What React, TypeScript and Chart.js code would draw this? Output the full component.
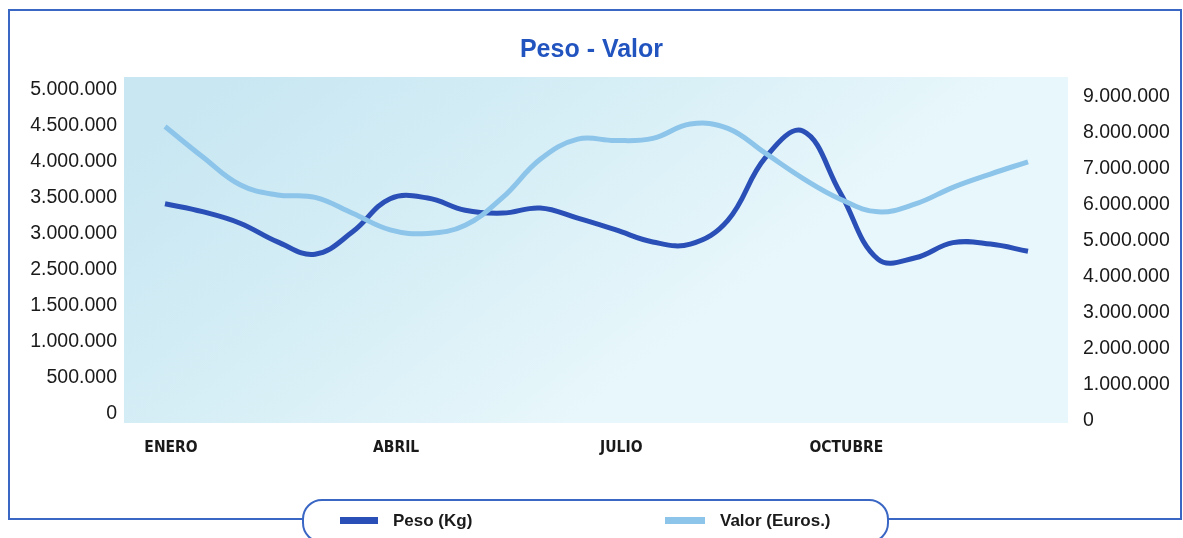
import React, { useEffect, useRef } from "react";
import { Chart, registerables } from "chart.js";

Chart.register(...registerables);

// 24 half-month slots (two per month)
const categories = [
  "ENERO", "ENERO", "FEBRERO", "FEBRERO", "MARZO", "MARZO",
  "ABRIL", "ABRIL", "MAYO", "MAYO", "JUNIO", "JUNIO",
  "JULIO", "JULIO", "AGOSTO", "AGOSTO", "SEPTIEMBRE", "SEPTIEMBRE",
  "OCTUBRE", "OCTUBRE", "NOVIEMBRE", "NOVIEMBRE", "DICIEMBRE", "DICIEMBRE",
];
const xTickIndices = [0, 6, 12, 18];

const pesoKg = [
  3420000, 3310000, 3150000, 2890000, 2720000, 3030000,
  3490000, 3500000, 3330000, 3290000, 3360000, 3220000,
  3060000, 2890000, 2860000, 3190000, 4060000, 4430000,
  3570000, 2650000, 2670000, 2880000, 2860000, 2760000,
];

const valorEuros = [
  8180000, 7340000, 6560000, 6280000, 6210000, 5770000,
  5310000, 5210000, 5440000, 6210000, 7270000, 7830000,
  7790000, 7850000, 8250000, 8130000, 7440000, 6740000,
  6160000, 5810000, 6030000, 6490000, 6860000, 7200000,
];

// left axis as printed (2.000.000 is missing in the original)
const leftTickValues = [500000, 1000000, 1500000, 2000000, 2500000, 3000000, 3500000, 4000000, 4500000, 5000000];
const leftTickLabels = ["0", "500.000", "1.000.000", "1.500.000", "2.500.000", "3.000.000", "3.500.000", "4.000.000", "4.500.000", "5.000.000"];

const rightTickValues = [0, 1000000, 2000000, 3000000, 4000000, 5000000, 6000000, 7000000, 8000000, 9000000];
const rightTickLabels = ["0", "1.000.000", "2.000.000", "3.000.000", "4.000.000", "5.000.000", "6.000.000", "7.000.000", "8.000.000", "9.000.000"];

const PESO_COLOR = "#2a4fb6";
const VALOR_COLOR = "#8cc4ea";
const FRAME_COLOR = "#3a66c4";
const SANS = "'Liberation Sans', Arial, sans-serif";
const NARROW = "'DejaVu Sans Condensed', 'DejaVu Sans', sans-serif";

const framePlugin = {
  id: "framePlugin",
  beforeDraw(chart: any) {
    const { ctx, chartArea } = chart;
    ctx.save();
    ctx.fillStyle = "#ffffff";
    ctx.fillRect(0, 0, chart.width, chart.height);
    // plot background gradient
    const g = ctx.createLinearGradient(chartArea.left + 100, chartArea.top, chartArea.left + 400, chartArea.bottom + 40);
    g.addColorStop(0, "#c8e7f2");
    g.addColorStop(0.5, "#d6eef6");
    g.addColorStop(1, "#e8f7fb");
    ctx.fillStyle = g;
    ctx.fillRect(chartArea.left, chartArea.top, chartArea.right - chartArea.left, chartArea.bottom - chartArea.top);
    // outer frame
    ctx.strokeStyle = FRAME_COLOR;
    ctx.lineWidth = 2;
    ctx.strokeRect(9, 10, 1172, 509);
    // legend pill
    ctx.beginPath();
    ctx.roundRect(303, 500, 585, 42, 19);
    ctx.fillStyle = "#ffffff";
    ctx.fill();
    ctx.stroke();
    ctx.restore();
  },
};

export default function App() {
  const canvasRef = useRef<HTMLCanvasElement | null>(null);

  useEffect(() => {
    if (!canvasRef.current) return;
    const chart = new Chart(canvasRef.current, {
      type: "line",
      data: {
        datasets: [
          {
            label: "Peso (Kg)",
            data: pesoKg.map((v, i) => ({ x: i, y: v })),
            borderColor: PESO_COLOR,
            borderWidth: 5,
            tension: 0.4,
            pointRadius: 0,
            fill: false,
            yAxisID: "yL",
            order: 1,
          },
          {
            label: "Valor (Euros.)",
            data: valorEuros.map((v, i) => ({ x: i, y: v })),
            borderColor: VALOR_COLOR,
            borderWidth: 5,
            tension: 0.4,
            pointRadius: 0,
            fill: false,
            yAxisID: "yR",
            order: 0,
          },
        ],
      },
      options: {
        animation: false,
        responsive: false,
        devicePixelRatio: 1,
        layout: { padding: 0 },
        plugins: {
          legend: { display: false },
          tooltip: { enabled: false },
          title: {
            display: true,
            text: "Peso - Valor",
            color: "#2254c0",
            font: { family: SANS, size: 25, weight: "bold" },
            padding: { top: 35, bottom: 12 },
          },
        },
        scales: {
          x: {
            type: "linear",
            min: -1.093,
            max: 24.066,
            grid: { display: false, drawTicks: false },
            border: { display: false },
            afterBuildTicks: (scale: any) => {
              scale.ticks = xTickIndices.map((v) => ({ value: v }));
            },
            afterFit: (scale: any) => {
              scale.height = 115;
            },
            ticks: {
              autoSkip: false,
              maxRotation: 0,
              labelOffset: 6,
              padding: 16,
              color: "#1a1a1a",
              font: { family: NARROW, size: 15.5, weight: "bold" },
              callback: (v: any) => categories[Math.round(v)],
            },
          },
          yL: {
            type: "linear",
            position: "left",
            min: 375000,
            max: 5180556,
            grid: { display: false, drawTicks: false },
            border: { display: false },
            afterBuildTicks: (scale: any) => {
              scale.ticks = leftTickValues.map((v) => ({ value: v }));
            },
            afterFit: (scale: any) => {
              scale.width = 124;
            },
            ticks: {
              padding: 7,
              color: "#1a1a1a",
              font: { family: SANS, size: 19.5 },
              callback: (v: any) => leftTickLabels[leftTickValues.indexOf(v)],
            },
          },
          yR: {
            type: "linear",
            position: "right",
            min: -55556,
            max: 9555556,
            grid: { display: false, drawTicks: false },
            border: { display: false },
            afterBuildTicks: (scale: any) => {
              scale.ticks = rightTickValues.map((v) => ({ value: v }));
            },
            afterFit: (scale: any) => {
              scale.width = 115;
            },
            ticks: {
              padding: 15,
              color: "#1a1a1a",
              font: { family: SANS, size: 19.5 },
              callback: (v: any) => rightTickLabels[rightTickValues.indexOf(v)],
            },
          },
        },
      },
      plugins: [framePlugin],
    } as any);
    return () => chart.destroy();
  }, []);

  const legendText: React.CSSProperties = {
    position: "absolute",
    top: 511,
    fontFamily: SANS,
    fontWeight: "bold",
    fontSize: 17,
    lineHeight: "20px",
    color: "#1a1a1a",
    whiteSpace: "nowrap",
  };

  return (
    <div style={{ position: "absolute", left: 0, top: 0, width: 1183, height: 538, overflow: "hidden", background: "#fff" }}>
      <canvas ref={canvasRef} width={1183} height={538} style={{ position: "absolute", left: 0, top: 0, display: "block" }} />
      <div style={{ position: "absolute", left: 340, top: 517, width: 38, height: 7, background: PESO_COLOR }} />
      <div style={{ ...legendText, left: 393 }}>Peso (Kg)</div>
      <div style={{ position: "absolute", left: 665, top: 517, width: 40, height: 7, background: VALOR_COLOR }} />
      <div style={{ ...legendText, left: 720 }}>Valor (Euros.)</div>
    </div>
  );
}
